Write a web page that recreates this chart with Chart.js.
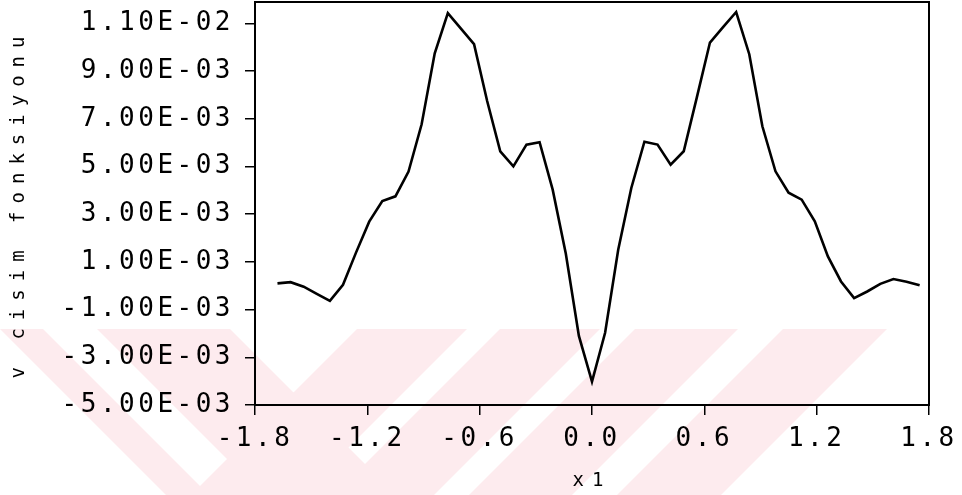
<!DOCTYPE html>
<html>
<head>
<meta charset="utf-8">
<script src="https://cdn.jsdelivr.net/npm/chart.js@4/dist/chart.umd.min.js"></script>
<style>
  html, body { margin: 0; padding: 0; background: #ffffff; }
  #wrap { width: 962px; height: 495px; }
</style>
</head>
<body>
<div id="wrap"><canvas id="c" width="962" height="495"></canvas></div>
<script>
// x1 sample positions
const xValues = [
  -1.68, -1.61, -1.54, -1.47, -1.40, -1.33, -1.26, -1.19, -1.12, -1.05,
  -0.98, -0.91, -0.84, -0.77, -0.70, -0.63, -0.56, -0.49, -0.42, -0.35,
  -0.28, -0.21, -0.14, -0.07, 0.00,
  0.07, 0.14, 0.21, 0.28, 0.35, 0.42, 0.49, 0.56, 0.63, 0.70,
  0.77, 0.84, 0.91, 0.98, 1.05, 1.12, 1.19, 1.26, 1.33, 1.40,
  1.47, 1.54, 1.61, 1.68, 1.75
];

// v cisim fonksiyonu values at each x1
const vValues = [
  0.00010, 0.00015, -0.00004, -0.00034, -0.00063, 0.00004, 0.00140, 0.00269, 0.00355, 0.00375,
  0.00479, 0.00677, 0.00975, 0.01143, 0.01078, 0.01013, 0.00775, 0.00564, 0.00501, 0.00592,
  0.00602, 0.00403, 0.00135, -0.00210, -0.00402,
  -0.00197, 0.00151, 0.00410, 0.00604, 0.00592, 0.00508, 0.00564, 0.00790, 0.01020, 0.01085,
  0.01148, 0.00971, 0.00669, 0.00480, 0.00390, 0.00361, 0.00270, 0.00123, 0.00018, -0.00052,
  -0.00024, 0.00008, 0.00028, 0.00017, 0.00002
];

const xTickValues = [-1.8, -1.2, -0.6, 0.0, 0.6, 1.2, 1.8];
const xTickLabels = ['-1.8', '-1.2', '-0.6', '0.0', '0.6', '1.2', '1.8'];

const yTickValues = [-0.005, -0.003, -0.001, 0.001, 0.003, 0.005, 0.007, 0.009, 0.011];
const yTickLabels = ['-5.00E-03', '-3.00E-03', '-1.00E-03', '1.00E-03', '3.00E-03',
                     '5.00E-03', '7.00E-03', '9.00E-03', '1.10E-02'];

const xTitle = 'x1';
const yTitle = 'v cisim fonksiyonu';

const points = xValues.map((x, i) => ({ x: x, y: vValues[i] }));

function labelFor(values, labels, v) {
  const i = values.findIndex(t => Math.abs(t - v) < 1e-9);
  return i >= 0 ? labels[i] : '';
}

const MONO = "'DejaVu Sans Mono', 'Liberation Mono', monospace";
const TICK_SPACING = '3.5px';
const TITLE_SPACING = '8px';

// Faint diagonal band pattern in the lower part of the page
const backdrop = {
  id: 'backdrop',
  beforeDraw(chart) {
    const ctx = chart.ctx;
    const top = 329, bottom = chart.height, h = bottom - top;
    ctx.save();
    ctx.beginPath();
    ctx.rect(0, top, chart.width, h);
    ctx.clip();
    ctx.fillStyle = '#fdebee';
    ctx.beginPath();
    // bands leaning right ("/")
    [[357, 467], [500, 600], [635, 738], [783, 887]].forEach(([a, b]) => {
      ctx.moveTo(a, top); ctx.lineTo(b, top); ctx.lineTo(b - h, bottom); ctx.lineTo(a - h, bottom); ctx.closePath();
    });
    // bands leaning left ("\")
    [[0, 43], [97, 230]].forEach(([a, b]) => {
      ctx.moveTo(a, top); ctx.lineTo(b, top); ctx.lineTo(b + h, bottom); ctx.lineTo(a + h, bottom); ctx.closePath();
    });
    ctx.fill('nonzero');
    ctx.restore();

    // wide mono lettering for tick labels, wider still for the axis titles
    ctx.letterSpacing = TICK_SPACING;
    ['x', 'y'].forEach(id => {
      const s = chart.scales[id];
      if (s && !s.$spacedTitle) {
        const orig = s.drawTitle;
        s.drawTitle = function () {
          const c = this.ctx;
          const prev = c.letterSpacing;
          c.letterSpacing = TITLE_SPACING;
          orig.call(this);
          c.letterSpacing = prev;
        };
        s.$spacedTitle = true;
      }
    });
  }
};

// Closed frame around the plotting area
const frame = {
  id: 'frame',
  afterDatasetsDraw(chart) {
    const { ctx, chartArea: a } = chart;
    ctx.save();
    ctx.strokeStyle = '#000';
    ctx.lineWidth = 2;
    ctx.strokeRect(a.left, a.top, a.right - a.left, a.bottom - a.top);
    ctx.restore();
  }
};

new Chart(document.getElementById('c'), {
  type: 'line',
  data: {
    datasets: [{
      data: points,
      borderColor: '#000000',
      borderWidth: 2.6,
      pointRadius: 0,
      tension: 0,
      fill: false
    }]
  },
  options: {
    responsive: false,
    devicePixelRatio: 1,
    animation: false,
    layout: { padding: { left: 0, top: 2, right: 33, bottom: 0 } },
    plugins: { legend: { display: false }, tooltip: { enabled: false } },
    scales: {
      x: {
        type: 'linear',
        min: -1.8,
        max: 1.8,
        afterBuildTicks(scale) { scale.ticks = xTickValues.map(v => ({ value: v })); },
        afterFit(scale) { scale.height = 90; scale.paddingLeft = 0; scale.paddingRight = 0; },
        grid: { display: true, drawOnChartArea: false, drawTicks: true, tickLength: 10, color: '#000', lineWidth: 1.5 },
        border: { display: true, color: '#000', width: 2 },
        ticks: {
          autoSkip: false, maxRotation: 0, minRotation: 0, padding: 9,
          color: '#000', font: { family: MONO, size: 26 },
          callback: (v) => labelFor(xTickValues, xTickLabels, v)
        },
        title: {
          display: true, text: xTitle, color: '#000',
          font: { family: MONO, size: 19 }, padding: { top: 0, bottom: 3 }
        }
      },
      y: {
        type: 'linear',
        min: -0.005,
        max: 0.0119,
        afterBuildTicks(scale) { scale.ticks = yTickValues.map(v => ({ value: v })); },
        afterFit(scale) { scale.width = 255; scale.paddingTop = 0; scale.paddingBottom = 0; },
        grid: { display: true, drawOnChartArea: false, drawTicks: true, tickLength: 10, color: '#000', lineWidth: 1.5 },
        border: { display: true, color: '#000', width: 2 },
        ticks: {
          autoSkip: false, padding: 11,
          color: '#000', font: { family: MONO, size: 26 },
          callback: (v) => labelFor(yTickValues, yTickLabels, v)
        },
        title: {
          display: true, text: yTitle, color: '#000',
          font: { family: MONO, size: 19 }, padding: { top: 8, bottom: 0 }
        }
      }
    }
  },
  plugins: [backdrop, frame]
});
</script>
</body>
</html>
